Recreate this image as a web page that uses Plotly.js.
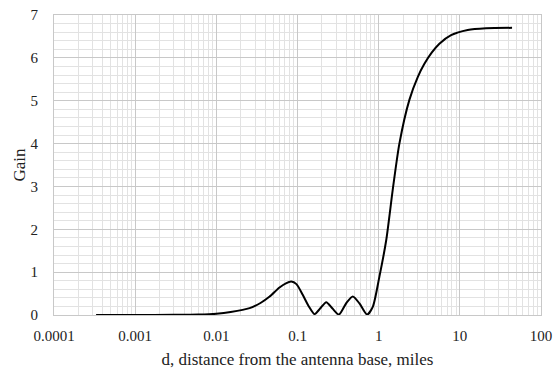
<!DOCTYPE html>
<html>
<head>
<meta charset="utf-8">
<script src="https://cdn.plot.ly/plotly-3.0.1.min.js"></script>
<style>html,body{margin:0;padding:0;background:#fff}#chart{width:556px;height:372px}</style>
</head>
<body>
<div id="chart"></div>
<script>
const distance = [0.00033, 0.001, 0.003, 0.006, 0.01, 0.015, 0.0257, 0.035, 0.0454, 0.06, 0.072, 0.0838, 0.097, 0.116, 0.138, 0.162, 0.19, 0.226, 0.27, 0.324, 0.4, 0.48, 0.58, 0.72, 0.846, 1.02, 1.24, 1.49, 1.8, 2.39, 3.03, 3.66, 4.5, 5.6, 7.8, 12.5, 21, 44];
const gain = [0, 0, 0.003, 0.01, 0.03, 0.07, 0.16, 0.28, 0.43, 0.64, 0.74, 0.78, 0.72, 0.47, 0.2, 0.02, 0.15, 0.30, 0.15, 0.01, 0.28, 0.43, 0.27, 0.01, 0.19, 0.89, 1.75, 2.92, 4.0, 5.02, 5.55, 5.86, 6.12, 6.33, 6.53, 6.65, 6.69, 6.70];
const xTickVals = [0.0001, 0.001, 0.01, 0.1, 1, 10, 100];
const xTickText = ["0.0001", "0.001", "0.01", "0.1", "1", "10", "100"];
const xTitle = "d, distance from the antenna base, miles";
const yTitle = "Gain";

const fam = "Liberation Serif, Times New Roman, serif";
const txt = "#222";
Plotly.newPlot("chart", [{
  x: distance, y: gain, type: "scatter", mode: "lines",
  line: {color: "#000", width: 2, shape: "spline", smoothing: 0.7}
}], {
  width: 556, height: 372,
  margin: {l: 54, r: 15, t: 15, b: 57},
  paper_bgcolor: "#fff", plot_bgcolor: "#fff",
  showlegend: false,
  font: {family: fam, size: 15, color: txt},
  xaxis: {
    type: "log", range: [-4, 2],
    tickvals: xTickVals, ticktext: xTickText,
    showgrid: true, gridcolor: "#c8c8c8", gridwidth: 1,
    minor: {dtick: "D1", showgrid: true, gridcolor: "#e2e2e2", gridwidth: 1, ticks: ""},
    zeroline: false, showline: true, linecolor: "#c8c8c8", mirror: true,
    ticks: "outside", ticklen: 7, tickcolor: "rgba(0,0,0,0)",
    tickfont: {family: fam, size: 15, color: txt},
    title: {text: xTitle, font: {family: fam, size: 17, color: txt}, standoff: 10}
  },
  yaxis: {
    range: [0, 7], dtick: 1,
    showgrid: true, gridcolor: "#c8c8c8", gridwidth: 1,
    minor: {dtick: 0.2, showgrid: true, gridcolor: "#e2e2e2", gridwidth: 1, ticks: ""},
    zeroline: false, showline: true, linecolor: "#c8c8c8", mirror: true,
    ticks: "outside", ticklen: 12, tickcolor: "rgba(0,0,0,0)",
    tickfont: {family: fam, size: 15, color: txt},
    title: {text: yTitle, font: {family: fam, size: 17, color: txt}, standoff: 0}
  }
}, {staticPlot: true, displayModeBar: false});
</script>
</body>
</html>
